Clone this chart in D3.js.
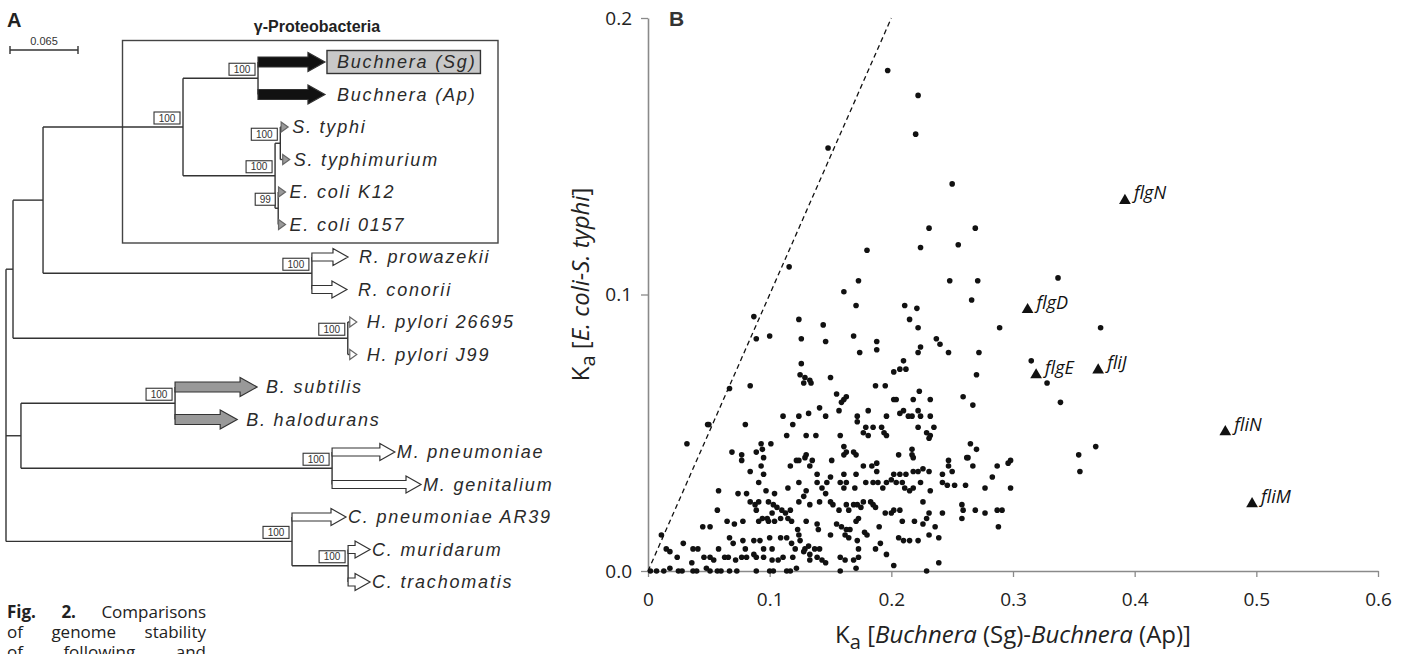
<!DOCTYPE html>
<html>
<head>
<meta charset="utf-8">
<script src="https://cdn.jsdelivr.net/npm/d3@7"></script>
<style>
  body { margin: 0; background: #fff; }
  svg { display: block; }
</style>
</head>
<body>
<script>
const width = 1409;
const height = 654;

// ---------- panel A : tree ----------
// [id, parent, branch length, bootstrap, clade]
const treeRows = [
  ['root', '', 0],
  ['n1', 'root', 0.0067],
  ['proteo', 'n1', 0.0287],
  ['gamma', 'proteo', 0.1338, 100],
  ['buch', 'gamma', 0.0717, 100],
  ['Buchnera (Sg)', 'buch', 0.064, null, 'buchnera'],
  ['Buchnera (Ap)', 'buch', 0.064, null, 'buchnera'],
  ['entero', 'gamma', 0.088, 100],
  ['salm', 'entero', 0.005, 100],
  ['S. typhi', 'salm', 0.0075, null, 'enteric'],
  ['S. typhimurium', 'salm', 0.009, null, 'enteric'],
  ['ecoli', 'entero', 0.003, 99],
  ['E. coli K12', 'ecoli', 0.007, null, 'enteric'],
  ['E. coli 0157', 'ecoli', 0.007, null, 'enteric'],
  ['rick', 'proteo', 0.257, 100],
  ['R. prowazekii', 'rick', 0.0345, null, 'rickettsia'],
  ['R. conorii', 'rick', 0.0335, null, 'rickettsia'],
  ['hp', 'n1', 0.320, 100],
  ['H. pylori 26695', 'hp', 0.0086, null, 'hpylori'],
  ['H. pylori J99', 'hp', 0.0086, null, 'hpylori'],
  ['gram', 'root', 0.0143],
  ['bac', 'gram', 0.1473, 100],
  ['B. subtilis', 'bac', 0.0784, null, 'bacillus'],
  ['B. halodurans', 'bac', 0.0594, null, 'bacillus'],
  ['moll', 'gram', 0.2974, 100],
  ['M. pneumoniae', 'moll', 0.060, null, 'mollicutes'],
  ['M. genitalium', 'moll', 0.085, null, 'mollicutes'],
  ['chl', 'root', 0.2734, 100],
  ['C. pneumoniae AR39', 'chl', 0.0516, null, 'chlamydia'],
  ['cmt', 'chl', 0.0536, 100],
  ['C. muridarum', 'cmt', 0.021, null, 'chlamydia'],
  ['C. trachomatis', 'cmt', 0.021, null, 'chlamydia']
];
const scaleBarValue = 0.065;
const highlightLeaf = 'Buchnera (Sg)';
const cladeTitle = 'γ-Proteobacteria';

// ---------- panel B : scatter ----------
const xTicks = [0, 0.1, 0.2, 0.3, 0.4, 0.5, 0.6];
const yTicks = [0, 0.1, 0.2];

// [Ka Buchnera (Sg)-Buchnera (Ap), Ka E. coli-S. typhi]
const genes = [
  [0.197,0.181],[0.222,0.172],[0.220,0.158],[0.148,0.153],[0.250,0.140],[0.231,0.124],[0.269,0.124],[0.224,0.117],
  [0.255,0.118],[0.180,0.116],[0.116,0.110],[0.173,0.105],[0.161,0.101],[0.248,0.105],[0.271,0.105],[0.171,0.096],
  [0.211,0.096],[0.221,0.095],[0.266,0.098],[0.087,0.092],[0.124,0.091],[0.144,0.089],[0.215,0.091],[0.222,0.088],
  [0.289,0.088],[0.337,0.106],[0.372,0.088],[0.315,0.076],[0.328,0.068],[0.339,0.061],[0.368,0.045],[0.354,0.042],
  [0.355,0.036],[0.296,0.039],[0.298,0.040],[0.287,0.038],[0.283,0.034],[0.298,0.030],[0.287,0.022],[0.291,0.022],
  [0.288,0.016],
  [0.237,0.084],[0.240,0.082],[0.247,0.079],[0.272,0.079],[0.188,0.080],[0.188,0.083],[0.169,0.085],[0.146,0.083],
  [0.126,0.084],[0.100,0.085],[0.089,0.084],[0.224,0.081],[0.222,0.079],[0.174,0.079],
  [0.270,0.071],[0.210,0.076],[0.207,0.073],[0.212,0.073],[0.202,0.072],[0.126,0.075],[0.125,0.071],[0.129,0.070],
  [0.133,0.069],[0.128,0.068],[0.134,0.068],[0.150,0.070],[0.187,0.067],[0.195,0.067],[0.067,0.066],[0.084,0.067],
  [0.155,0.064],[0.163,0.063],[0.161,0.062],[0.159,0.061],[0.202,0.062],[0.204,0.062],[0.218,0.062],[0.223,0.065],
  [0.232,0.062],[0.259,0.063],[0.267,0.060],[0.157,0.058],[0.141,0.059],[0.181,0.058],[0.210,0.058],[0.207,0.057],
  [0.214,0.056],[0.217,0.056],[0.224,0.056],[0.222,0.058],[0.232,0.056],[0.172,0.056],[0.172,0.054],[0.196,0.056],
  [0.146,0.056],[0.132,0.057],[0.124,0.056],[0.111,0.056],[0.119,0.053],
  [0.049,0.053],[0.050,0.053],[0.080,0.053],[0.032,0.046],[0.093,0.046],[0.101,0.046],[0.130,0.049],[0.138,0.049],
  [0.158,0.049],[0.114,0.049],[0.177,0.050],[0.181,0.049],[0.179,0.052],[0.185,0.052],[0.192,0.052],[0.194,0.050],
  [0.196,0.049],[0.222,0.052],[0.229,0.050],[0.232,0.049],[0.235,0.052],[0.231,0.048],
  [0.069,0.043],[0.077,0.042],[0.077,0.040],[0.089,0.043],[0.095,0.041],[0.094,0.044],[0.122,0.040],[0.129,0.041],
  [0.130,0.042],[0.135,0.040],[0.151,0.040],[0.161,0.042],[0.161,0.045],[0.163,0.043],[0.169,0.043],[0.171,0.042],
  [0.217,0.044],[0.206,0.042],[0.217,0.042],[0.218,0.041],[0.247,0.040],[0.263,0.041],[0.265,0.046],[0.270,0.044],
  [0.267,0.038],
  [0.084,0.036],[0.093,0.038],[0.095,0.035],[0.117,0.038],[0.124,0.040],[0.133,0.038],[0.139,0.035],[0.150,0.034],
  [0.161,0.035],[0.171,0.035],[0.177,0.038],[0.184,0.038],[0.188,0.036],[0.188,0.039],[0.202,0.035],[0.207,0.035],
  [0.212,0.035],[0.218,0.036],[0.222,0.036],[0.226,0.037],[0.231,0.036],[0.242,0.035],[0.247,0.038],[0.250,0.036],
  [0.262,0.041],
  [0.058,0.029],[0.074,0.028],[0.081,0.028],[0.091,0.032],[0.097,0.029],[0.104,0.028],[0.115,0.030],[0.124,0.032],
  [0.130,0.029],[0.128,0.027],[0.139,0.032],[0.143,0.030],[0.147,0.032],[0.146,0.028],[0.158,0.032],[0.163,0.032],
  [0.161,0.030],[0.170,0.030],[0.179,0.032],[0.185,0.032],[0.189,0.032],[0.193,0.030],[0.196,0.032],[0.200,0.033],
  [0.204,0.032],[0.209,0.032],[0.211,0.030],[0.215,0.029],[0.218,0.030],[0.224,0.032],[0.232,0.029],[0.242,0.032],
  [0.246,0.031],[0.252,0.031],[0.261,0.031],[0.277,0.030],
  [0.084,0.025],[0.088,0.024],[0.089,0.022],[0.091,0.025],[0.099,0.025],[0.103,0.024],[0.106,0.023],[0.110,0.022],
  [0.113,0.021],[0.117,0.022],[0.115,0.019],[0.102,0.021],[0.098,0.019],[0.094,0.019],[0.124,0.025],[0.133,0.024],
  [0.141,0.025],[0.150,0.025],[0.152,0.024],[0.157,0.022],[0.163,0.024],[0.165,0.022],[0.169,0.024],[0.172,0.024],
  [0.175,0.023],[0.177,0.025],[0.183,0.025],[0.185,0.024],[0.187,0.023],[0.195,0.021],[0.200,0.021],[0.207,0.022],
  [0.226,0.025],[0.231,0.021],[0.242,0.021],[0.258,0.024],[0.259,0.022],[0.269,0.022],[0.277,0.021],[0.258,0.019],
  [0.057,0.022],
  [0.045,0.016],[0.051,0.016],[0.065,0.018],[0.071,0.017],[0.078,0.018],[0.091,0.018],[0.099,0.018],[0.104,0.018],
  [0.109,0.019],[0.118,0.018],[0.123,0.015],[0.130,0.018],[0.139,0.017],[0.140,0.015],[0.155,0.017],[0.159,0.016],
  [0.163,0.015],[0.166,0.015],[0.171,0.018],[0.173,0.019],[0.178,0.014],[0.190,0.016],[0.209,0.018],[0.219,0.018],
  [0.226,0.017],[0.229,0.019],[0.236,0.016],[0.202,0.022],
  [0.011,0.013],[0.029,0.010],[0.037,0.008],[0.041,0.008],[0.058,0.008],[0.067,0.012],[0.070,0.010],[0.078,0.011],
  [0.080,0.008],[0.087,0.011],[0.092,0.011],[0.095,0.008],[0.100,0.012],[0.102,0.008],[0.109,0.012],[0.114,0.012],
  [0.118,0.010],[0.124,0.013],[0.125,0.011],[0.129,0.008],[0.132,0.009],[0.137,0.008],[0.141,0.008],[0.121,0.008],
  [0.150,0.013],[0.162,0.013],[0.165,0.012],[0.172,0.011],[0.173,0.008],[0.180,0.013],[0.187,0.008],[0.191,0.010],
  [0.196,0.006],[0.206,0.012],[0.210,0.011],[0.215,0.011],[0.222,0.011],[0.231,0.013],[0.239,0.012],
  [0.015,0.008],[0.018,0.007],[0.024,0.005],[0.036,0.003],[0.046,0.005],[0.051,0.005],[0.054,0.004],[0.063,0.005],
  [0.066,0.005],[0.072,0.004],[0.077,0.005],[0.081,0.005],[0.087,0.006],[0.089,0.005],[0.095,0.005],[0.102,0.004],
  [0.107,0.004],[0.111,0.005],[0.119,0.005],[0.128,0.007],[0.133,0.006],[0.139,0.005],[0.143,0.004],[0.146,0.003],
  [0.133,0.004],[0.158,0.005],[0.162,0.004],[0.169,0.004],[0.173,0.005],[0.171,0.001],[0.202,0.002],[0.239,0.003],
  [0.002,0],[0.007,0],[0.013,0],[0.018,0.001],[0.025,0],[0.028,0],[0.037,0],[0.040,0],[0.048,0.001],[0.051,0],
  [0.057,0],[0.060,0],[0.067,0],[0.073,0],[0.089,0],[0.100,0],[0.103,0],[0.114,0],[0.117,0],[0.122,0.001],
  [0.158,0],[0.229,0]
];

const flagGenes = ['flgN', 'flgD', 'flgE', 'fliJ', 'fliN', 'fliM'];
const flagKaBuchnera = [0.392, 0.312, 0.319, 0.370, 0.4745, 0.4965];
const flagKaEnteric = [0.134, 0.0945, 0.0709, 0.0727, 0.0503, 0.0243];

const captionLines = [
  [['Fig.', true], ['2.', true], ['Comparisons', false]],
  [['of', false], ['genome', false], ['stability', false]],
  [['of', false], ['following', false], ['and', false]]
];

// ---------- drawing ----------
const svg = d3.select('body').append('svg')
  .attr('width', width).attr('height', height)
  .style('font-family', 'Liberation Sans, Arial, sans-serif');

// ===== A =====
const treeFont = 'Liberation Sans, Arial, sans-serif';
const cladeStyle = {
  buchnera:   {kind: 'arrow', fill: '#111', shaft: 10, head: 19, headL: 17, gap: 12},
  enteric:    {kind: 'tri', fill: '#9a9a9a', stroke: '#666', gap: 4},
  rickettsia: {kind: 'arrow', fill: '#fff', shaft: 8, head: 17, headL: 15, gap: 11},
  hpylori:    {kind: 'tri', fill: '#fff', stroke: '#666', gap: 10},
  bacillus:   {kind: 'arrow', fill: '#999', shaft: 10, head: 19, headL: 17, gap: 9},
  mollicutes: {kind: 'arrow', fill: '#fff', shaft: 8, head: 17, headL: 15, gap: 2},
  chlamydia:  {kind: 'arrow', fill: '#fff', shaft: 8, head: 17, headL: 15, gap: 2}
};

const root = d3.stratify()
  .id(d => d[0])
  .parentId(d => d[1] || null)(treeRows);

root.eachBefore(d => { d.dist = d.parent ? d.parent.dist + d.data[2] : 0; });

const tx = d3.scaleLinear().domain([0, scaleBarValue]).range([6, 74]);
const ty = d3.scalePoint().domain(root.leaves().map(d => d.id)).range([62, 582]);

root.eachAfter(d => {
  d.px = tx(d.dist);
  d.py = d.children ? (d.children[0].py + d.children[d.children.length - 1].py) / 2 : ty(d.id);
});

const gA = svg.append('g');

// gamma-proteobacteria frame
gA.append('rect')
  .attr('x', 122.5).attr('y', 40.5).attr('width', 375.5).attr('height', 202.5)
  .attr('fill', 'none').attr('stroke', '#444').attr('stroke-width', 1.4);
gA.append('text')
  .attr('x', 317).attr('y', 32)
  .attr('text-anchor', 'middle')
  .attr('font-size', 16).attr('font-weight', 'bold').attr('fill', '#222')
  .text(cladeTitle);

// branches
const lineCol = '#333';
root.descendants().filter(d => d.children).forEach(d => {
  const c = d.children;
  gA.append('line')
    .attr('x1', d.px).attr('x2', d.px)
    .attr('y1', c[0].py).attr('y2', c[c.length - 1].py)
    .attr('stroke', lineCol).attr('stroke-width', 1.4);
});
root.descendants().filter(d => d.parent && d.children).forEach(d => {
  gA.append('line')
    .attr('x1', d.parent.px).attr('x2', d.px)
    .attr('y1', d.py).attr('y2', d.py)
    .attr('stroke', lineCol).attr('stroke-width', 1.4);
});

// leaves
root.leaves().forEach(d => {
  const st = cladeStyle[d.data[4]];
  const x0 = d.parent.px, x1 = d.px, y = d.py;
  if (st.kind === 'arrow') {
    const s = st.shaft / 2, h = st.head / 2, hx = x1 - st.headL;
    gA.append('path')
      .attr('d', `M${x0},${y - s}L${hx},${y - s}L${hx},${y - h}L${x1},${y}L${hx},${y + h}L${hx},${y + s}L${x0},${y + s}Z`)
      .attr('fill', st.fill).attr('stroke', '#333').attr('stroke-width', 1.2);
  } else {
    const tw = 7;
    if (x1 - tw > x0) {
      gA.append('line').attr('x1', x0).attr('x2', x1 - tw).attr('y1', y).attr('y2', y)
        .attr('stroke', lineCol).attr('stroke-width', 1.4);
    }
    gA.append('path')
      .attr('d', `M${x1 - tw},${y - 5}L${x1},${y}L${x1 - tw},${y + 5}Z`)
      .attr('fill', st.fill).attr('stroke', st.stroke).attr('stroke-width', 1.2);
  }
  const lx = x1 + st.gap;
  const hl = d.id === highlightLeaf ? gA.append('rect') : null;
  const t = gA.append('text')
    .attr('x', lx).attr('y', y).attr('dy', '0.36em')
    .attr('font-family', treeFont).attr('font-style', 'italic')
    .attr('font-size', 18).attr('letter-spacing', 1.8).attr('fill', '#2a2a2a')
    .text(d.id);
  if (hl) {
    const w = t.node().getComputedTextLength();
    hl.attr('x', x1 + 2).attr('y', y - 11.5).attr('width', w + 14).attr('height', 23)
      .attr('fill', '#c8c8c8').attr('stroke', '#333').attr('stroke-width', 1.4);
  }
});

// bootstrap boxes
root.descendants().filter(d => d.data[3] != null).forEach(d => {
  const label = String(d.data[3]);
  const w = label.length * 6 + 8, hgt = 12;
  const bx = d.px - 3 - w, by = d.py - 3 - hgt;
  gA.append('rect')
    .attr('x', bx).attr('y', by).attr('width', w).attr('height', hgt)
    .attr('fill', '#fff').attr('stroke', '#333').attr('stroke-width', 1.1);
  gA.append('text')
    .attr('x', bx + w / 2).attr('y', by + hgt / 2).attr('dy', '0.36em')
    .attr('text-anchor', 'middle').attr('font-size', 10).attr('fill', '#333')
    .text(label);
});

// scale bar
const sbY = 50;
const sbX0 = 10, sbX1 = sbX0 + tx(scaleBarValue) - tx(0);
gA.append('line').attr('x1', sbX0).attr('x2', sbX1).attr('y1', sbY).attr('y2', sbY)
  .attr('stroke', '#333').attr('stroke-width', 1.4);
[sbX0, sbX1].forEach(x => gA.append('line').attr('x1', x).attr('x2', x)
  .attr('y1', sbY - 4).attr('y2', sbY + 4).attr('stroke', '#333').attr('stroke-width', 1.4));
gA.append('text').attr('x', (sbX0 + sbX1) / 2).attr('y', sbY - 5)
  .attr('text-anchor', 'middle').attr('font-size', 11).attr('fill', '#333')
  .text(scaleBarValue);

gA.append('text').attr('x', 7).attr('y', 27)
  .attr('font-size', 20).attr('font-weight', 'bold').attr('fill', '#222').text('A');

// caption (justified, third line runs off the page as in the source)
const capX0 = 7, capX1 = 206;
captionLines.forEach((words, i) => {
  const y = 618 + i * 20;
  const nodes = words.map(([w, b]) => svg.append('text')
    .attr('y', y).attr('font-family', 'Open Sans, sans-serif')
    .attr('font-size', 17).attr('font-weight', b ? 'bold' : 'normal').attr('fill', '#222')
    .text(w));
  const widths = nodes.map(n => n.node().getComputedTextLength());
  const gap = (capX1 - capX0 - d3.sum(widths)) / (nodes.length - 1);
  let x = capX0;
  nodes.forEach((n, j) => { n.attr('x', x); x += widths[j] + gap; });
});

// ===== B =====
const x = d3.scaleLinear().domain([0, 0.6]).range([648, 1378]);
const y = d3.scaleLinear().domain([0, 0.2]).range([571, 18]);
const fontB = 'Open Sans, sans-serif';

const xAxis = g => g
  .attr('transform', `translate(0, ${y(0)})`)
  .call(d3.axisBottom(x).tickValues(xTicks)
    .tickFormat(d => d === 0 ? '0' : d3.format('.1f')(d))
    .tickSize(6).tickPadding(16).tickSizeOuter(0))
  .call(g => g.select('.domain').attr('stroke', '#8a8a8a').attr('stroke-width', 1.6))
  .call(g => g.selectAll('.tick line').attr('stroke', '#8a8a8a').attr('stroke-width', 1.3))
  .call(g => g.selectAll('text').attr('font-family', fontB).attr('font-size', 19).attr('fill', '#222'));

const yAxis = g => g
  .attr('transform', `translate(${x(0)}, 0)`)
  .call(d3.axisLeft(y).tickValues(yTicks).tickFormat(d3.format('.1f'))
    .tickSize(7).tickPadding(9).tickSizeOuter(0))
  .call(g => g.select('.domain').attr('stroke', '#8a8a8a').attr('stroke-width', 1.6))
  .call(g => g.selectAll('.tick line').attr('stroke', '#8a8a8a').attr('stroke-width', 1.3))
  .call(g => g.selectAll('text').attr('font-family', fontB).attr('font-size', 19).attr('fill', '#222'));

svg.append('g').call(xAxis);
svg.append('g').call(yAxis);

// y = x reference line
svg.append('path')
  .datum([[0, 0], [0.2, 0.2]])
  .attr('d', d3.line().x(d => x(d[0])).y(d => y(d[1])))
  .attr('fill', 'none').attr('stroke', '#111').attr('stroke-width', 1.3)
  .attr('stroke-dasharray', '5,3.5');

svg.append('g')
  .attr('fill', '#111')
  .selectAll('circle').data(genes).enter().append('circle')
  .attr('cx', d => x(d[0]))
  .attr('cy', d => y(d[1]))
  .attr('r', 2.8);

const flag = flagGenes.map((g, i) => ({gene: g, kb: flagKaBuchnera[i], ke: flagKaEnteric[i]}));
const tri = d3.symbol(d3.symbolTriangle).size(60);
svg.append('g').selectAll('path').data(flag).enter().append('path')
  .attr('transform', d => `translate(${x(d.kb)}, ${y(d.ke)})`)
  .attr('d', tri).attr('fill', '#111');
svg.append('g').selectAll('text').data(flag).enter().append('text')
  .attr('x', d => x(d.kb) + 9)
  .attr('y', d => y(d.ke) - 1)
  .attr('font-family', fontB).attr('font-style', 'italic').attr('font-size', 18).attr('fill', '#111')
  .text(d => d.gene);

svg.append('text').attr('x', 669).attr('y', 26)
  .attr('font-size', 21).attr('font-weight', 'bold').attr('fill', '#333').text('B');

// axis titles
const xt = svg.append('text')
  .attr('x', (x(0) + x(0.6)) / 2).attr('y', 643)
  .attr('text-anchor', 'middle')
  .attr('font-family', fontB).attr('font-size', 24).attr('fill', '#222');
xt.append('tspan').text('K');
xt.append('tspan').attr('dy', 6).attr('font-size', 20).text('a');
xt.append('tspan').attr('dy', -6).text(' [');
xt.append('tspan').attr('font-style', 'italic').text('Buchnera');
xt.append('tspan').text(' (Sg)-');
xt.append('tspan').attr('font-style', 'italic').text('Buchnera');
xt.append('tspan').text(' (Ap)]');

const yt = svg.append('text')
  .attr('transform', `translate(589, ${(y(0) + y(0.2)) / 2 - 10}) rotate(-90)`)
  .attr('text-anchor', 'middle')
  .attr('font-family', fontB).attr('font-size', 24).attr('fill', '#222');
yt.append('tspan').text('K');
yt.append('tspan').attr('dy', 6).attr('font-size', 20).text('a');
yt.append('tspan').attr('dy', -6).text(' [');
yt.append('tspan').attr('font-style', 'italic').text('E. coli-S. typhi');
yt.append('tspan').text(']');

svg.node();
</script>
</body>
</html>
